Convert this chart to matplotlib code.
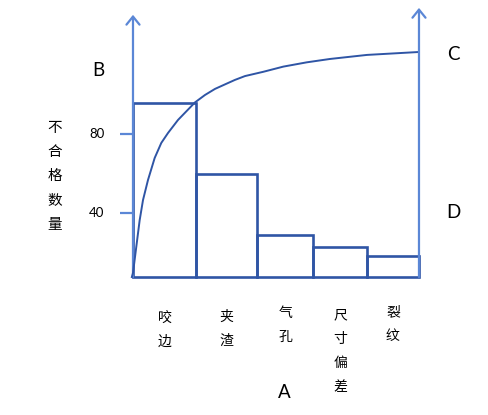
import numpy as np
import matplotlib.pyplot as plt

categories = ["咬边", "夹渣", "气孔", "尺寸偏差", "裂纹"]
bar_tops = [95.7, 59.7, 28.9, 22.8, 18.2]
base = 7.6
bar_edges = [0, 1.1, 2.17, 3.15, 4.09, 5.0]

# cumulative curve (right scale, percent)
curve_x = [-0.02, 0.0, 0.058, 0.117, 0.175, 0.262, 0.379, 0.495, 0.612, 0.787,
           0.962, 1.084, 1.259, 1.434, 1.608, 1.783, 1.958, 2.278, 2.628, 3.037,
           3.444, 4.091, 5.0]
curve_y = [0, 1.8, 13.5, 25.3, 34.2, 43.1, 52.9, 59.6, 64.0, 69.8,
           74.4, 77.6, 80.9, 83.6, 85.6, 87.6, 89.3, 91.2, 93.5, 95.4,
           96.9, 98.7, 100]

left_ticks = [40, 80]

bar_color = "#2F55A5"
axis_color = "#5B87D6"
W, H = 489, 415

fig = plt.figure(figsize=(W / 100, H / 100), dpi=100)
ax = fig.add_axes([0, 0, 1, 1])
ax.set_xlim(-2.325, 6.224)
ax.set_ylim(-62.3, 147.8)
ax.axis("off")
ax2 = ax.twinx()
ax2.set_ylim(-61.3, 123.1)
ax2.axis("off")

cjk = ["Noto Sans CJK SC", "DejaVu Sans"]
latin = ["Lato", "DejaVu Sans"]

def ftext(x, y, s, **kw):
    fig.text(x / W, 1 - y / H, s, **kw)

# axes with arrows
arrow = dict(arrowstyle="->, head_width=0.47, head_length=0.58", color=axis_color,
             lw=1.6, mutation_scale=10, shrinkA=0, shrinkB=0)
ax.annotate("", xy=(0, 140.3), xytext=(0, base), arrowprops=arrow)
ax2.annotate("", xy=(5, 119.6), xytext=(5, 0), arrowprops=arrow)

# tick marks and labels
ax.hlines(left_ticks, -0.227, 0, color=axis_color, lw=1.6)
for t in left_ticks:
    ax.text(-0.63, t, str(t), ha="center", va="center", fontsize=9.5, family=latin)

# bars
widths = np.diff(bar_edges)
heights = np.array(bar_tops) - base
ax.bar(bar_edges[:-1], heights, width=widths, bottom=base, align="edge",
       fill=False, edgecolor=bar_color, lw=1.9)

# curve
ax2.plot(curve_x, curve_y, color=bar_color, lw=1.4, solid_joinstyle="round")

# category labels, stacked vertically
centers = [(bar_edges[i] + bar_edges[i + 1]) / 2 for i in range(len(categories))]
label_tops = [311, 310, 306, 308, 305]
for c, name, top in zip(centers, categories, label_tops):
    px = 133 + 57.2 * c
    ftext(px, top, "\n".join(name), ha="center", va="top", fontsize=10,
          family=cjk, linespacing=1.9)

# y label
ftext(55, 121, "\n".join("不合格数量"), ha="center", va="top", fontsize=10.5,
      family=cjk, linespacing=1.93)

# letters
ftext(98, 70, "B", ha="center", va="center", fontsize=13.5, family=latin)
ftext(453, 55, "C", ha="center", va="center", fontsize=13.5, family=latin)
ftext(453, 212, "D", ha="center", va="center", fontsize=13.5, family=latin)
ftext(284, 392, "A", ha="center", va="center", fontsize=13.5, family=latin)

fig.savefig("out.png", dpi=100)
